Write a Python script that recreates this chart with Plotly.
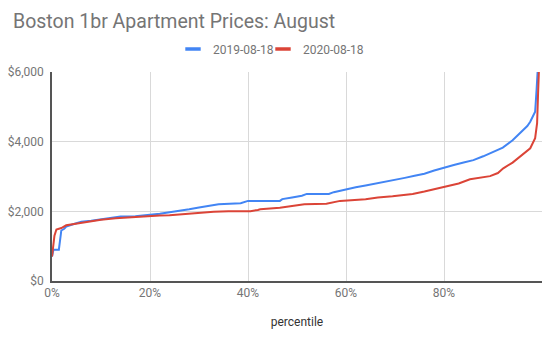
import plotly.graph_objects as go

# 2019-08-18 series: percentile -> monthly price
pct_2019 = [0.000, 0.003, 0.014, 0.017, 0.019, 0.025, 0.029, 0.043, 0.06, 0.08,
            0.10, 0.12, 0.14, 0.17, 0.20, 0.22, 0.24, 0.26, 0.28, 0.30,
            0.32, 0.34, 0.385, 0.40, 0.465, 0.47, 0.49, 0.51, 0.52, 0.565,
            0.575, 0.59, 0.60, 0.62, 0.64, 0.66, 0.68, 0.70, 0.72, 0.74,
            0.76, 0.78, 0.80, 0.82, 0.84, 0.86, 0.88, 0.90, 0.92, 0.94,
            0.96, 0.97, 0.976, 0.986, 0.989, 0.991, 0.999]
price_2019 = [700, 900, 900, 1200, 1450, 1500, 1560, 1630, 1700, 1730,
              1770, 1800, 1850, 1860, 1900, 1930, 1975, 2010, 2060, 2110,
              2150, 2200, 2230, 2300, 2300, 2350, 2400, 2450, 2500, 2500,
              2550, 2600, 2640, 2690, 2740, 2790, 2840, 2900, 2960, 3020,
              3080, 3170, 3260, 3330, 3400, 3470, 3580, 3700, 3830, 4040,
              4300, 4450, 4570, 4860, 5500, 6500, 8000]

# 2020-08-18 series
pct_2020 = [0.000, 0.002, 0.005, 0.009, 0.019, 0.029, 0.05, 0.07, 0.10, 0.13,
            0.16, 0.19, 0.22, 0.24, 0.26, 0.28, 0.30, 0.33, 0.36, 0.405,
            0.42, 0.425, 0.465, 0.49, 0.515, 0.56, 0.588, 0.64, 0.665, 0.695,
            0.72, 0.736, 0.76, 0.79, 0.80, 0.83, 0.853, 0.87, 0.894, 0.91,
            0.921, 0.94, 0.955, 0.976, 0.986, 0.990, 0.992, 0.994, 0.999]
price_2020 = [700, 900, 1300, 1480, 1520, 1600, 1650, 1700, 1760, 1800,
              1830, 1870, 1880, 1890, 1915, 1940, 1970, 1990, 2000, 2005,
              2040, 2060, 2100, 2150, 2200, 2220, 2300, 2350, 2400, 2430,
              2480, 2500, 2570, 2670, 2690, 2800, 2920, 2960, 3010, 3100,
              3235, 3400, 3570, 3810, 4100, 4530, 5390, 6500, 8000]

series_names = ["2019-08-18", "2020-08-18"]
x_ticks = [0, 0.2, 0.4, 0.6, 0.8]
x_tick_labels = ["0%", "20%", "40%", "60%", "80%"]
y_ticks = [0, 2000, 4000, 6000]
y_tick_labels = ["$0", "$2,000", "$4,000", "$6,000"]

BLUE = "#4285F4"
RED = "#DB4437"

fig = go.Figure()
fig.add_trace(go.Scatter(x=pct_2019, y=price_2019, mode="lines", name=series_names[0],
                         showlegend=False, line=dict(color=BLUE, width=2)))
fig.add_trace(go.Scatter(x=pct_2020, y=price_2020, mode="lines", name=series_names[1],
                         showlegend=False, line=dict(color=RED, width=2)))

# legend keys (short thick bars, as in the original)
for name, col, lg in [(series_names[0], BLUE, "legend"), (series_names[1], RED, "legend2")]:
    fig.add_trace(go.Scatter(x=[None], y=[None], mode="markers", name=name, legend=lg,
                             marker=dict(symbol="line-ew", size=11,
                                         line=dict(color=col, width=3.5))))

leg_common = dict(orientation="h", yanchor="middle", y=(281 - 49) / 209,
                  xanchor="left", font=dict(size=12, color="#757575"), itemwidth=30,
                  bgcolor="rgba(0,0,0,0)")

fig.update_layout(
    width=550, height=338,
    margin=dict(l=52, r=8, t=72, b=57),
    paper_bgcolor="white", plot_bgcolor="white",
    font=dict(family="Roboto", color="#757575", size=12),
    title=dict(text="Boston 1br Apartment Prices: August", x=13/550, xanchor="left",
               y=1 - 21/338, yanchor="middle",
               font=dict(size=19.5, color="#757575", family="Roboto")),
    legend=dict(x=(173 - 52) / 490, **leg_common),
    legend2=dict(x=(263 - 52) / 490, **leg_common),
    showlegend=True,
)
fig.update_xaxes(range=[0, 1.0], tickvals=x_ticks, ticktext=x_tick_labels,
                 showgrid=True, gridcolor="#d9d9d9", gridwidth=1,
                 showline=True, linecolor="#555555", linewidth=1.5,
                 zeroline=False, ticks="", tickfont=dict(size=12, color="#757575"),
                 title=dict(text="percentile", font=dict(size=12, color="#333333"), standoff=18))
fig.update_yaxes(range=[0, 6000], tickvals=y_ticks, ticktext=y_tick_labels,
                 showgrid=True, gridcolor="#d9d9d9", gridwidth=1,
                 showline=True, linecolor="#555555", linewidth=1.5,
                 zeroline=False, ticks="", ticklabelstandoff=4,
                 tickfont=dict(size=12, color="#757575"))

fig.write_html("out.html")
